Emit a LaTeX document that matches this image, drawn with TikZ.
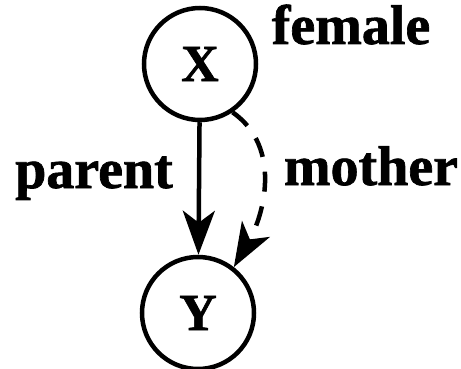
\documentclass[tikz,border=0pt]{standalone}
\usepackage{fontspec}
\setmainfont{Liberation Serif}
\newfontfamily\heavyfont{Liberation Serif Bold}[FakeBold=1.2]
\usetikzlibrary{arrows.meta}

\tikzset{
  var/.style={circle, draw, line width=4.5pt, minimum size=112pt, inner sep=0pt,
    font=\fontsize{52}{58}\heavyfont},
  lbl/.style={anchor=base, font=\fontsize{56}{62}\heavyfont},
  rel/.style={line width=4.5pt, -{Stealth[length=44pt, width=32pt, inset=12pt]}},
}

\begin{document}
\begin{tikzpicture}[x=1pt, y=-1pt]
        \useasboundingbox (0,0) rectangle (461,369);

        % Variables
        \node[var] (X) at (200,64) {X};
        \node[var] (Y) at (198,313) {Y};

        % Labels
        \node[lbl] (female) at (351,44) {female};
        \node[lbl] (parent) at (94,188) {parent};
        \node[lbl] (mother) at (371,185) {mother};

        % Relations
        \draw[rel] (X) -- (Y);
        \draw[rel, dash pattern=on 20pt off 15pt] (X.-56)
          to[out=-35, in=60] (Y.52);
      \end{tikzpicture}
\end{document}
